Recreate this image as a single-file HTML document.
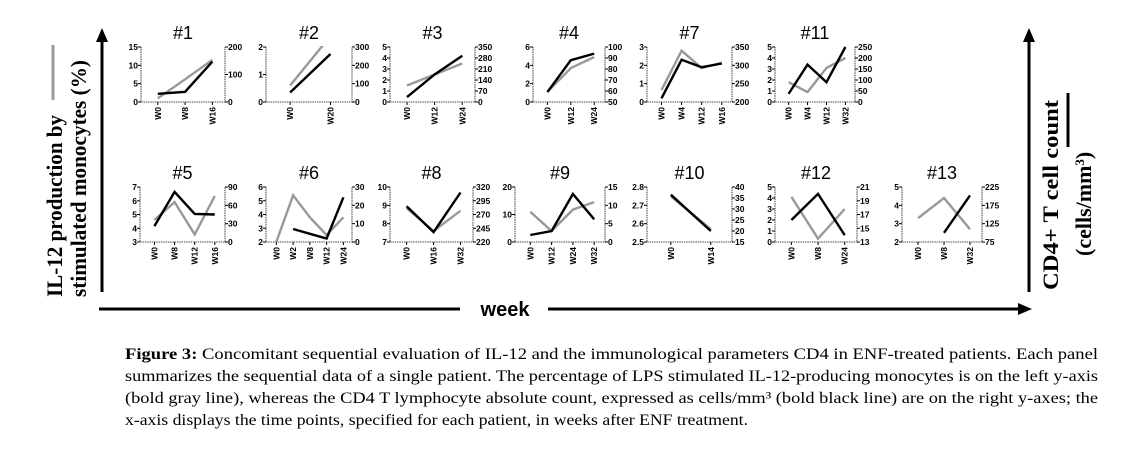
<!DOCTYPE html>
<html><head><meta charset="utf-8"><style>
html,body{margin:0;padding:0;background:#fff;}
svg{display:block;font-family:"Liberation Sans",Arial,sans-serif;}
</style></head><body>
<svg id="fig" width="1132" height="453" viewBox="0 0 1132 453" xmlns="http://www.w3.org/2000/svg">
<g>
<line x1="102" y1="292" x2="102" y2="40" stroke="#000" stroke-width="3"/>
<polygon points="96,42 108,42 102,28" fill="#000"/>
</g>
<g>
<line x1="1029" y1="292" x2="1029" y2="40" stroke="#000" stroke-width="3"/>
<polygon points="1023,42 1035,42 1029,28" fill="#000"/>
</g>
<g>
<line x1="99" y1="309" x2="460" y2="309" stroke="#000" stroke-width="3"/>
<line x1="548" y1="309" x2="1020" y2="309" stroke="#000" stroke-width="3"/>
<polygon points="1018,303 1018,315 1032,309" fill="#000"/>
</g>
<text x="505" y="316" text-anchor="middle" font-size="20" font-weight="bold">week</text>
<g font-family="'Liberation Serif',serif" font-weight="bold" font-size="22">
<text transform="translate(62,297) rotate(-90)" textLength="182" lengthAdjust="spacingAndGlyphs">IL-12 production by</text>
<text transform="translate(86,297) rotate(-90)" textLength="237" lengthAdjust="spacingAndGlyphs">stimulated monocytes (%)</text>
<line x1="53" y1="45" x2="53" y2="100" stroke="#999" stroke-width="3"/>
</g>
<g font-family="'Liberation Serif',serif" font-weight="bold" font-size="22">
<text transform="translate(1058,290) rotate(-90)" textLength="190" lengthAdjust="spacingAndGlyphs">CD4+ T cell count</text>
<text transform="translate(1091,256) rotate(-90)">(cells/mm<tspan font-size="13" dy="-7">3</tspan><tspan dy="7">)</tspan></text>
<line x1="1068" y1="93" x2="1068" y2="147" stroke="#000" stroke-width="3"/>
</g>
<g font-family="'Liberation Serif',serif" font-size="16">
<text x="125" y="359" textLength="973" lengthAdjust="spacingAndGlyphs"><tspan font-weight="bold">Figure 3:</tspan> Concomitant sequential evaluation of IL-12 and the immunological parameters CD4 in ENF-treated patients.  Each panel</text>
<text x="125" y="381" textLength="973" lengthAdjust="spacingAndGlyphs">summarizes the sequential data of a single patient.  The percentage of LPS stimulated IL-12-producing monocytes is on the left y-axis</text>
<text x="125" y="403" textLength="973" lengthAdjust="spacingAndGlyphs">(bold gray line), whereas the CD4 T lymphocyte absolute count, expressed as cells/mm³ (bold black line) are on the right y-axes; the</text>
<text x="125" y="425" textLength="623" lengthAdjust="spacingAndGlyphs">x-axis displays the time points, specified for each patient, in weeks after ENF treatment.</text>
</g>
<g id="panels"></g>
</svg>
<script>
const panelIds = ["1","2","3","4","7","11","5","6","8","9","10","12","13"];
const categories1 = ["W0","W8","W16"];
const categories2 = ["W0","W20"];
const categories3 = ["W0","W12","W24"];
const categories4 = ["W0","W12","W24"];
const categories7 = ["W0","W4","W12","W16"];
const categories11 = ["W0","W4","W12","W32"];
const categories5 = ["W0","W8","W12","W16"];
const categories6 = ["W0","W2","W8","W12","W24"];
const categories8 = ["W0","W16","W32"];
const categories9 = ["W0","W12","W24","W32"];
const categories10 = ["W0","W14"];
const categories12 = ["W0","W8","W24"];
const categories13 = ["W0","W8","W32"];
const il12_1 = [1, 6.2, 11.5];          const cd4_1 = [30, 37, 147];
const il12_2 = [0.6, 2.4];              const cd4_2 = [52, 262];
const il12_3 = [1.5, 2.5, 3.5];         const cd4_3 = [31, 175, 294];
const il12_4 = [1.1, 3.7, 4.9];         const cd4_4 = [59, 88, 94];
const il12_7 = [0.65, 2.8, 1.85, 2.15]; const cd4_7 = [210, 315, 295, 305];
const il12_11 = [1.8, 0.9, 3.1, 4.0];   const cd4_11 = [37, 170, 90, 250];
const il12_5 = [4.6, 5.9, 3.55, 6.35];  const cd4_5 = [26, 82, 46, 45];
const il12_6 = [2.0, 5.4, 3.8, 2.5, 3.8]; const cd4_6 = [null, 7.1, 4.5, 1.9, 24.4];
const il12_8 = [8.85, 7.6, 8.7];        const cd4_8 = [285, 238, 310];
const il12_9 = [11, 4, 11.8, 14.5];     const cd4_9 = [1.9, 3, 13.1, 6.2];
const il12_10 = [2.75, 2.57];           const cd4_10 = [36.5, 20];
const il12_12 = [4.1, 0.3, 3.0];        const cd4_12 = [16.2, 20, 14];
const il12_13 = [3.3, 4.4, 2.7];        const cd4_13 = [null, 100, 202];
const leftTicks1=[0,5,10,15], rightTicks1=[0,100,200];
const leftTicks2=[0,1,2], rightTicks2=[0,100,200,300];
const leftTicks3=[0,1,2,3,4,5], rightTicks3=[0,70,140,210,280,350];
const leftTicks4=[0,2,4,6], rightTicks4=[50,60,70,80,90,100];
const leftTicks7=[0,1,2,3], rightTicks7=[200,250,300,350];
const leftTicks11=[0,1,2,3,4,5], rightTicks11=[0,50,100,150,200,250];
const leftTicks5=[3,4,5,6,7], rightTicks5=[0,30,60,90];
const leftTicks6=[2,3,4,5,6], rightTicks6=[0,10,20,30];
const leftTicks8=[7,8,9,10], rightTicks8=[220,245,270,295,320];
const leftTicks9=[0,10,20], rightTicks9=[0,5,10,15];
const leftTicks10=[2.5,2.6,2.7,2.8], rightTicks10=[15,20,25,30,35,40];
const leftTicks12=[0,1,2,3,4,5], rightTicks12=[13,15,17,19,21];
const leftTicks13=[2,3,4,5], rightTicks13=[75,125,175,225];

const CATS={"1":categories1,"2":categories2,"3":categories3,"4":categories4,"7":categories7,"11":categories11,"5":categories5,"6":categories6,"8":categories8,"9":categories9,"10":categories10,"12":categories12,"13":categories13};
const GRAY={"1":il12_1,"2":il12_2,"3":il12_3,"4":il12_4,"7":il12_7,"11":il12_11,"5":il12_5,"6":il12_6,"8":il12_8,"9":il12_9,"10":il12_10,"12":il12_12,"13":il12_13};
const BLACK={"1":cd4_1,"2":cd4_2,"3":cd4_3,"4":cd4_4,"7":cd4_7,"11":cd4_11,"5":cd4_5,"6":cd4_6,"8":cd4_8,"9":cd4_9,"10":cd4_10,"12":cd4_12,"13":cd4_13};
const LT={"1":leftTicks1,"2":leftTicks2,"3":leftTicks3,"4":leftTicks4,"7":leftTicks7,"11":leftTicks11,"5":leftTicks5,"6":leftTicks6,"8":leftTicks8,"9":leftTicks9,"10":leftTicks10,"12":leftTicks12,"13":leftTicks13};
const RT={"1":rightTicks1,"2":rightTicks2,"3":rightTicks3,"4":rightTicks4,"7":rightTicks7,"11":rightTicks11,"5":rightTicks5,"6":rightTicks6,"8":rightTicks8,"9":rightTicks9,"10":rightTicks10,"12":rightTicks12,"13":rightTicks13};

const layout = {
 "1":[141,225,47,102],"2":[266,352,47,102],"3":[390,475,47,102],"4":[533,605,47,102],
 "7":[647,732,47,102],"11":[775,855,47,102],
 "5":[140,225,187,242],"6":[266,352,187,242],"8":[390,473,187,242],"9":[515,605,187,242],
 "10":[647,732,187,242],"12":[775,857,187,242],"13":[902,982,187,242]};
const pad = {2:[0.28,0.75],3:[0.2,0.85],4:[0.17,0.88],5:[0.12,0.9]};
const NS="http://www.w3.org/2000/svg";
const root=document.getElementById('panels');
function mk(tag,attrs,parent,txt){const e=document.createElementNS(NS,tag);for(const k in attrs)e.setAttribute(k,attrs[k]);if(txt!==undefined)e.textContent=txt;parent.appendChild(e);return e;}
panelIds.forEach(id=>{
 const [x0,x1,yt,yb]=layout[id];
 const cats=CATS[id], gray=GRAY[id], black=BLACK[id];
 const lt=LT[id], rt=RT[id];
 const lmin=lt[0],lmax=lt[lt.length-1],rmin=rt[0],rmax=rt[rt.length-1];
 const yL=v=>yb-(v-lmin)/(lmax-lmin)*(yb-yt);
 const yR=v=>yb-(v-rmin)/(rmax-rmin)*(yb-yt);
 const p=pad[cats.length];
 const xC=i=>x0+(x1-x0)*(p[0]+(p[1]-p[0])*i/(cats.length-1));
 const g=mk('g',{},root);
 
 
 const cp=mk('clipPath',{id:'cp'+id},g);mk('rect',{x:x0,y:yt-1,width:x1-x0,height:yb-yt+2},cp);
 const t=mk('text',{x:(x0+x1)/2,y:yt-8,'text-anchor':'middle','font-size':18},g,'#'+id);
 
 
 mk('path',{d:`M${x0},${yt}V${yb}H${x1}V${yt}`,fill:'none',stroke:'#888','stroke-width':1.6,'stroke-dasharray':'1.5,0.8'},g);
 const fs=8.5;
 lt.forEach(v=>{const y=yL(v);mk('line',{x1:x0-3,x2:x0,y1:y,y2:y,stroke:'#000','stroke-width':1},g);
  mk('text',{x:x0-3,y:y+3,'text-anchor':'end','font-size':fs,'font-weight':'bold'},g,String(v));});
 rt.forEach(v=>{const y=yR(v);mk('line',{x1:x1,x2:x1+3,y1:y,y2:y,stroke:'#000','stroke-width':1},g);
  mk('text',{x:x1+3,y:y+3,'font-size':fs,'font-weight':'bold'},g,String(v));});
 cats.forEach((c,i)=>{const x=xC(i);mk('line',{x1:x,x2:x,y1:yb,y2:yb+3,stroke:'#000','stroke-width':1},g);
  const tx=mk('text',{transform:`translate(${x+3},${yb+5}) rotate(-90)`,'text-anchor':'end','font-size':fs,'font-weight':'bold'},g,c);
  
  });
 const line=(vals,sc,col,name)=>{let d='';let started=false;
  vals.forEach((v,i)=>{if(v===null||v===undefined){started=false;return;}d+=(started?'L':'M')+xC(i).toFixed(1)+','+sc(v).toFixed(1);started=true;});
  const pth=mk('path',{d:d,fill:'none',stroke:col,'stroke-width':2.4,'clip-path':`url(#cp${id})`},g);
  
  };
 line(gray,yL,'#999','il12-line');
 line(black,yR,'#000','cd4-line');
});
</script>
</body></html>
